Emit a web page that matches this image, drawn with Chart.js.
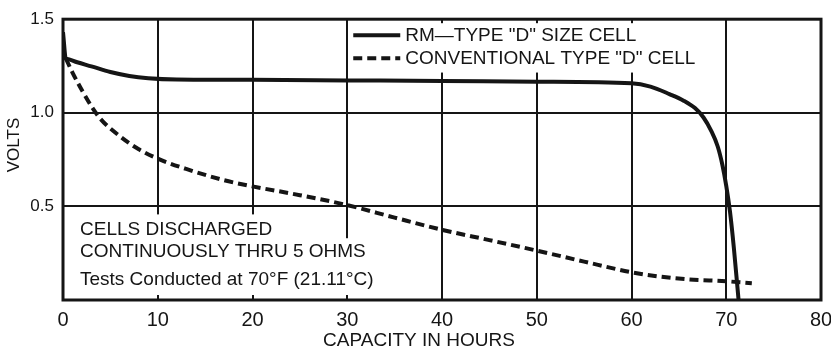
<!DOCTYPE html>
<html lang="en">
<head>
    <meta charset="UTF-8">
    <title>RM-type D cell discharge</title>
    <script src="https://cdn.jsdelivr.net/npm/chart.js"></script>
    <style>
        body {
            margin: 0;
            padding: 0;
            background: #fff;
        }

        .chart {
            width: 831px;
            height: 356px;
        }
    </style>
</head>
<body>
    <div class="chart">
        <canvas id="dischargeChart"></canvas>
    </div>

    <script>
        // RM-type cell
        const rmHours = [0, 0.3, 0.35, 1.5, 3, 5, 7, 9, 12, 20, 30, 40, 50, 60, 62, 64, 65.5, 66.7, 67.6, 68.4, 69.1, 69.6, 70.0, 70.4, 70.8, 71.3];
        const rmVolts = [1.43, 1.29, 1.289, 1.27, 1.248, 1.218, 1.197, 1.185, 1.178, 1.176, 1.173, 1.17, 1.166, 1.158, 1.14, 1.10, 1.065, 1.025, 0.975, 0.905, 0.82, 0.72, 0.61, 0.47, 0.28, 0.0];

        // conventional cell
        const convHours = [0.3, 1, 2, 3, 4, 6, 8, 10, 13, 17, 20, 25, 30, 35, 40, 45, 50, 55, 60, 63, 66, 70, 72.7];
        const convVolts = [1.29, 1.215, 1.12, 1.035, 0.965, 0.875, 0.805, 0.755, 0.70, 0.64, 0.607, 0.56, 0.507, 0.44, 0.375, 0.32, 0.264, 0.205, 0.148, 0.125, 0.11, 0.10, 0.09];

        const seriesLabels = ['RM\u2014TYPE "D" SIZE CELL', 'CONVENTIONAL TYPE "D" CELL'];
        const yTickLabels = { 0.5: '0.5', 1: '1.0', 1.5: '1.5' };
        const xTitle = 'CAPACITY IN HOURS';
        const yTitle = 'VOLTS';
        const noteLines = ['CELLS DISCHARGED', 'CONTINUOUSLY THRU 5 OHMS', 'Tests Conducted at 70\u00B0F (21.11\u00B0C)'];

        const ink = '#151515';
        const font = "'Liberation Sans', Arial, sans-serif";

        const toPoints = (xs, ys) => xs.map((x, i) => ({ x: x, y: ys[i] }));

        // white patches, frame, legend and notes drawn over the grid
        const paperPlugin = {
            id: 'paper',
            beforeDatasetsDraw(chart) {
                const { ctx, chartArea: a, scales: { x, y } } = chart;
                ctx.save();
                ctx.fillStyle = '#fff';
                // legend box between the 30 and 70 lines
                ctx.fillRect(x.getPixelForValue(30) + 2, a.top + 4, x.getPixelForValue(70) - x.getPixelForValue(30) - 4, y.getPixelForValue(1.215) - a.top - 4);
                // note box under 0.5
                ctx.fillRect(a.left + 2, y.getPixelForValue(0.5) + 8, x.getPixelForValue(30) - a.left - 4, a.bottom - y.getPixelForValue(0.5) - 13);
                ctx.fillRect(a.left + 2, y.getPixelForValue(0.33), x.getPixelForValue(34) - a.left, a.bottom - y.getPixelForValue(0.33) - 5);
                ctx.restore();
            },
            afterDatasetsDraw(chart) {
                const { ctx, chartArea: a, scales: { x, y } } = chart;
                ctx.save();
                ctx.strokeStyle = ink;
                ctx.lineWidth = 3;
                ctx.strokeRect(a.left, a.top, a.right - a.left, a.bottom - a.top);

                // legend
                const lx = x.getPixelForValue(30) + 6;
                chart.data.datasets.forEach((ds, i) => {
                    const ly = a.top + 16 + i * 23;
                    ctx.beginPath();
                    ctx.lineWidth = ds.borderWidth;
                    ctx.setLineDash(ds.borderDash || []);
                    ctx.moveTo(lx, ly);
                    ctx.lineTo(lx + 47, ly);
                    ctx.stroke();
                    ctx.setLineDash([]);
                    ctx.fillStyle = ink;
                    ctx.font = '19px ' + font;
                    ctx.textBaseline = 'middle';
                    ctx.fillText(ds.label, lx + 52, ly + 1);
                });

                // notes
                ctx.fillStyle = ink;
                ctx.font = '19px ' + font;
                ctx.textBaseline = 'middle';
                const ny = [230, 252, 280];
                noteLines.forEach((t, i) => ctx.fillText(t, a.left + 17, ny[i]));

                // axis titles
                ctx.font = '19px ' + font;
                ctx.textAlign = 'center';
                ctx.fillText(xTitle, 419, 341);
                ctx.font = '17px ' + font;
                ctx.translate(14, 145);
                ctx.rotate(-Math.PI / 2);
                ctx.fillText(yTitle, 0, 0);
                ctx.restore();
            }
        };

        const ctx = document.getElementById('dischargeChart').getContext('2d');
        new Chart(ctx, {
            type: 'line',
            data: {
                datasets: [{
                    label: seriesLabels[0],
                    data: toPoints(rmHours, rmVolts),
                    borderColor: ink,
                    borderWidth: 4,
                    pointRadius: 0,
                    cubicInterpolationMode: 'monotone',
                    fill: false
                }, {
                    label: seriesLabels[1],
                    data: toPoints(convHours, convVolts),
                    borderColor: ink,
                    borderWidth: 4,
                    borderDash: [9, 5],
                    pointRadius: 0,
                    cubicInterpolationMode: 'monotone',
                    fill: false
                }]
            },
            options: {
                responsive: true,
                maintainAspectRatio: false,
                animation: false,
                layout: { padding: { top: 16, right: 10 } },
                plugins: {
                    legend: { display: false },
                    tooltip: { enabled: false }
                },
                scales: {
                    x: {
                        type: 'linear',
                        min: 0,
                        max: 80,
                        ticks: {
                            stepSize: 10,
                            color: ink,
                            padding: 8,
                            font: { family: font, size: 20 }
                        },
                        grid: { color: ink, lineWidth: 2, drawTicks: false },
                        border: { display: false },
                        afterFit: s => {
                            s.height = 56;
                            s.paddingLeft = 0;
                            s.paddingRight = 0;
                        }
                    },
                    y: {
                        type: 'linear',
                        min: 0,
                        max: 1.5,
                        ticks: {
                            stepSize: 0.5,
                            color: ink,
                            padding: 9,
                            font: { family: font, size: 17 },
                            callback: v => yTickLabels[v] || ''
                        },
                        grid: { color: ink, lineWidth: 2, drawTicks: false },
                        border: { display: false },
                        afterFit: s => { s.width = 63; }
                    }
                }
            },
            plugins: [paperPlugin]
        });
    </script>
</body>
</html>
